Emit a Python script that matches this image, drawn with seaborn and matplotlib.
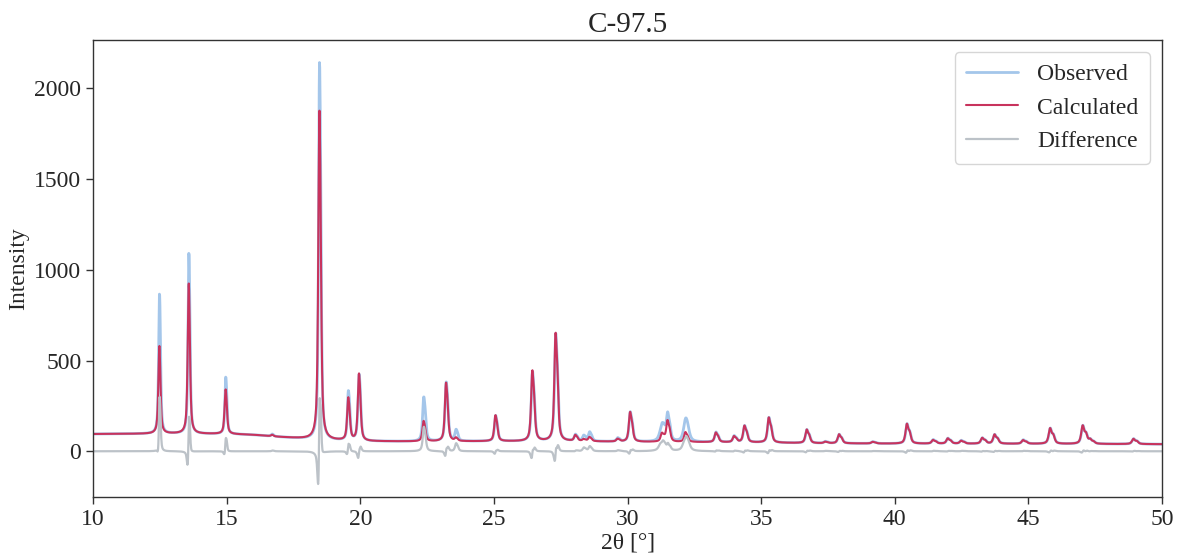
import numpy as np
import pandas as pd
import matplotlib
matplotlib.use("Agg")
import matplotlib.pyplot as plt
import seaborn as sns

# Refined reflections: position (2θ, °) and peak height above background
peak_pos = [12.47, 13.57, 14.95, 16.69, 18.46, 19.54, 19.94, 22.36, 23.20, 23.57,
            25.05, 26.43, 27.30, 28.04, 28.35, 28.57, 29.62, 30.09, 31.28, 31.49,
            32.16, 33.30, 33.98, 34.37, 35.28, 36.70, 37.39, 37.91, 39.17, 40.45,
            41.43, 41.98, 42.48, 43.27, 43.73, 44.80, 45.81, 47.03, 47.31, 48.93]
calc_height = [483, 828, 245, 8, 1813, 234, 370, 112, 323, 17,
               143, 390, 598, 32, 10, 23, 15, 165, 45, 117,
               54, 53, 33, 92, 139, 75, 8, 50, 9, 110,
               20, 29, 16, 32, 51, 20, 87, 102, 22, 29]
obs_height = [773, 999, 314, 12, 2084, 272, 367, 245, 327, 61,
              141, 384, 594, 35, 30, 50, 20, 165, 98, 143,
              131, 55, 35, 92, 139, 75, 10, 50, 10, 110,
              22, 30, 18, 32, 51, 22, 87, 102, 22, 30]
obs_width_scale = [0.85, 0.85, 0.85, 1.0, 0.85, 0.9, 1.0, 1.0, 1.0, 1.0,
                   1.0, 1.0, 1.0, 1.0, 1.0, 1.0, 1.0, 1.0, 1.8, 1.0,
                   1.6, 1.0, 1.0, 1.0, 1.0, 1.0, 1.0, 1.0, 1.0, 1.0,
                   1.0, 1.0, 1.0, 1.0, 1.0, 1.0, 1.0, 1.0, 1.0, 1.0]

# Background anchor points (2θ, intensity)
bg_theta = [10, 13, 15, 16, 17, 18, 19, 20, 22, 25, 28, 30, 33, 35, 37, 40, 45, 50]
bg_level = [95, 97, 95, 90, 78, 68, 60, 55, 54, 55, 55, 52, 50, 48, 44, 42, 41, 39]

two_theta = np.arange(10.0, 50.0001, 0.01)
fine = np.arange(-2.0, 2.0, 0.001)


def pseudo_voigt(x, x0, fwhm, eta=0.7):
    g = np.exp(-4 * np.log(2) * ((x - x0) / fwhm) ** 2)
    lo = 1.0 / (1.0 + 4 * ((x - x0) / fwhm) ** 2)
    return eta * lo + (1 - eta) * g


def reflection(x, pos, height, width_scale=1.0, shift=0.0):
    """Kα1/Kα2 doublet scaled so its maximum equals `height`."""
    fwhm = (0.08 + 0.0013 * (pos - 10)) * width_scale
    split = np.degrees(2 * np.tan(np.radians(pos / 2)) * 0.00248)
    shape = lambda t: pseudo_voigt(t, 0.0, fwhm) + 0.5 * pseudo_voigt(t, split, fwhm)
    norm = shape(fine).max()
    return height * shape(x - pos - shift) / norm


background = np.interp(two_theta, bg_theta, bg_level)
calculated = background.copy()
observed = background.copy()
for p, hc, ho, ws in zip(peak_pos, calc_height, obs_height, obs_width_scale):
    calculated += reflection(two_theta, p, hc)
    observed += reflection(two_theta, p, ho, ws, shift=0.007)
difference = observed - calculated

df = pd.DataFrame({"2theta": two_theta, "Observed": observed,
                   "Calculated": calculated, "Difference": difference})

sns.set_style("ticks")
plt.rcParams["font.family"] = ["Liberation Serif", "DejaVu Serif"]

fig, ax = plt.subplots(figsize=(11.79, 5.58), dpi=100)
fig.subplots_adjust(left=0.079, right=0.9856, top=0.928, bottom=0.109)

sns.lineplot(data=df, x="2theta", y="Observed", ax=ax, color="#a4c6ea",
             linewidth=2.0, label="Observed", estimator=None, sort=False)
sns.lineplot(data=df, x="2theta", y="Calculated", ax=ax, color="#c8335d",
             linewidth=1.5, label="Calculated", estimator=None, sort=False)
sns.lineplot(data=df, x="2theta", y="Difference", ax=ax, color="#bcc2c8",
             linewidth=1.6, label="Difference", estimator=None, sort=False)

ax.set_xlim(10, 50)
ax.set_ylim(-253, 2265)
ax.set_xticks([10, 15, 20, 25, 30, 35, 40, 45, 50])
ax.set_yticks([0, 500, 1000, 1500, 2000])
ax.tick_params(axis="both", labelsize=17, length=5, width=1, color="#333333")
ax.set_xlabel("2θ [°]", fontsize=17, labelpad=2)
ax.set_ylabel("Intensity", fontsize=17)
ax.set_title("C-97.5", fontsize=21, pad=6)
for s in ax.spines.values():
    s.set_linewidth(1.0)
    s.set_color("#333333")

leg = ax.legend(loc="upper right", fontsize=17, frameon=True, fancybox=True,
                borderpad=0.5, labelspacing=0.5, handlelength=2.2)
leg.get_frame().set_edgecolor("#cccccc")

fig.savefig("out.png", dpi=100)
